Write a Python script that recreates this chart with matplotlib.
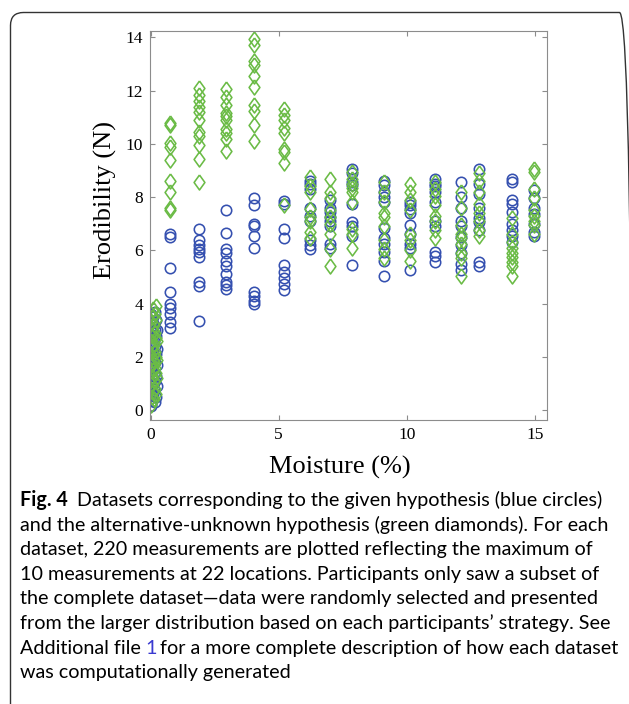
import matplotlib
matplotlib.use("Agg")
from matplotlib import pyplot as plt
from matplotlib.patches import FancyBboxPatch
from matplotlib.transforms import IdentityTransform
import numpy as np

# measurement locations (moisture %), 22 of them
locations = [0.02, 0.06, 0.10, 0.14, 0.18, 0.22, 0.26,
             0.75, 1.9, 2.95, 4.05, 5.2, 6.2, 7.0, 7.85,
             9.1, 10.1, 11.1, 12.1, 12.8, 14.1, 14.95]

# given hypothesis (blue circles)
blue_vals = [
    [0.15, 0.9, 1.6, 2.5, 3.1, 3.6],
    [0.35, 1.2, 1.9, 2.7, 3.3],
    [0.6, 1.0, 1.5, 2.2, 2.9, 3.5],
    [0.8, 1.4, 2.0, 2.6, 3.2],
    [0.3, 1.1, 1.8, 2.4, 3.0, 3.7],
    [0.5, 1.3, 2.1, 2.8, 3.4],
    [0.9, 1.7, 2.3, 3.0],
    [6.6, 6.5, 5.35, 4.45, 4.0, 3.85, 3.6, 3.3, 3.1],
    [6.8, 6.4, 6.2, 6.05, 5.95, 5.75, 4.8, 4.65, 3.35],
    [7.5, 6.65, 6.05, 5.9, 5.6, 5.4, 5.1, 4.8, 4.7, 4.55],
    [7.95, 7.7, 7.0, 6.9, 6.55, 6.1, 4.45, 4.3, 4.1, 4.0],
    [7.85, 7.75, 6.8, 6.45, 5.45, 5.2, 4.95, 4.75, 4.5],
    [8.6, 8.5, 8.3, 7.6, 7.3, 7.1, 6.4, 6.2, 6.05],
    [7.9, 7.6, 7.45, 7.25, 7.1, 6.9, 6.25, 6.1],
    [9.05, 8.9, 8.55, 8.45, 7.75, 7.05, 6.9, 6.55, 5.45],
    [8.6, 8.45, 8.2, 8.0, 7.8, 6.85, 6.45, 6.25, 5.95, 5.6, 5.05],
    [7.8, 7.7, 7.55, 7.4, 6.95, 6.6, 6.25, 6.1, 5.25],
    [8.7, 8.5, 8.4, 8.2, 7.8, 7.1, 6.9, 5.95, 5.8, 5.55],
    [8.55, 8.0, 7.6, 7.1, 6.9, 6.5, 6.2, 5.9, 5.5, 5.25],
    [9.05, 8.5, 8.1, 7.6, 7.2, 7.05, 6.75, 5.55, 5.4],
    [8.7, 8.55, 7.9, 7.75, 7.45, 7.0, 6.75, 6.55, 6.3],
    [8.25, 7.95, 7.6, 7.35, 7.0, 6.7, 6.55],
]

# alternative-unknown hypothesis (green diamonds)
green_vals = [
    [0.2, 1.0, 1.7, 2.6, 3.3],
    [0.5, 1.3, 2.0, 2.8, 3.5],
    [0.7, 1.5, 1.9, 2.4, 3.0, 3.8],
    [0.4, 1.1, 1.8, 2.5, 3.2],
    [0.8, 1.6, 2.2, 2.9, 3.6],
    [0.6, 1.4, 2.0, 2.7, 3.4, 3.9],
    [1.2, 1.9, 2.6],
    [10.8, 10.7, 10.05, 9.9, 9.4, 8.6, 8.2, 7.6, 7.5],
    [12.1, 11.85, 11.6, 11.4, 11.2, 10.9, 10.45, 10.3, 9.95, 9.45, 8.55],
    [12.05, 11.75, 11.45, 11.15, 11.05, 10.9, 10.55, 10.4, 10.2, 9.75],
    [13.95, 13.7, 13.1, 12.95, 12.55, 12.15, 11.45, 11.25, 10.7, 10.1],
    [11.3, 11.1, 10.9, 10.6, 10.4, 9.8, 9.7, 9.3, 7.7],
    [8.75, 8.4, 8.2, 7.55, 7.25, 7.1, 6.7, 6.45],
    [8.7, 8.2, 7.95, 7.5, 7.25, 7.0, 6.6, 6.05, 5.4],
    [8.95, 8.7, 8.5, 8.35, 8.2, 7.8, 6.8, 6.6, 6.1],
    [8.55, 8.2, 7.8, 7.4, 7.25, 6.9, 6.4, 6.05, 5.7],
    [8.5, 8.2, 7.9, 7.5, 6.6, 6.4, 6.0, 5.6],
    [8.55, 8.3, 8.05, 7.7, 7.3, 7.1, 6.75, 6.45],
    [8.2, 7.6, 6.95, 6.6, 6.45, 6.25, 5.9, 5.7, 5.05],
    [8.9, 8.6, 8.2, 7.75, 7.4, 7.1, 6.75, 6.55],
    [7.2, 6.6, 6.3, 6.1, 5.9, 5.75, 5.55, 5.4, 5.05],
    [9.05, 8.95, 8.3, 7.95, 7.5, 7.3, 7.1, 6.95, 6.6],
]

x_ticks = [0, 5, 10, 15]
y_ticks = [0, 2, 4, 6, 8, 10, 12, 14]
x_label = "Moisture (%)"
y_label = "Erodibility (N)"

caption_lines = [
    "Datasets corresponding to the given hypothesis (blue circles)",
    "and the alternative-unknown hypothesis (green diamonds). For each",
    "dataset, 220 measurements are plotted reflecting the maximum of",
    "10 measurements at 22 locations. Participants only saw a subset of",
    "the complete dataset\u2014data were randomly selected and presented",
    "from the larger distribution based on each participants\u2019 strategy. See",
    "for a more complete description of how each dataset",
    "was computationally generated",
]

W, H = 629, 704
BLUE = "#3550b0"
GREEN = "#6abb45"
AXIS = "#8c8c8c"

plt.rcParams["font.family"] = ["Liberation Serif", "DejaVu Serif"]
fig = plt.figure(figsize=(W / 100, H / 100), dpi=100)

# rounded frame round the figure + caption
frame = FancyBboxPatch((10.5, -40), 622, H - 12.5 + 40,
                       boxstyle="round,pad=0,rounding_size=13",
                       transform=IdentityTransform(), facecolor="none",
                       edgecolor="#333333", linewidth=1.0)
fig.patches.append(frame)

ax = fig.add_axes([150 / W, 1 - 420 / H, (546.7 - 150) / W, (420 - 31) / H])

bx = np.concatenate([[x] * len(v) for x, v in zip(locations, blue_vals)])
by = np.concatenate(blue_vals)
gx = np.concatenate([[x] * len(v) for x, v in zip(locations, green_vals)])
gy = np.concatenate(green_vals)

diamond = [(0, 1), (0.72, 0), (0, -1), (-0.72, 0), (0, 1)]
ax.plot(bx, by, linestyle="none", marker="o", ms=7.5, mfc="none",
        mec=BLUE, mew=1.15)
ax.plot(gx, gy, linestyle="none", marker=diamond, ms=10.8, mfc="none",
        mec=GREEN, mew=1.15)

ax.set_xlim(-0.02, 15.45)
ax.set_ylim(-0.37, 14.24)
ax.set_xticks(x_ticks)
ax.set_yticks(y_ticks)
ax.tick_params(direction="in", length=3.5, width=0.8, color=AXIS,
               labelsize=12.5, top=True, right=True, pad=5)
for s in ax.spines.values():
    s.set_color(AXIS)
    s.set_linewidth(0.8)
ax.set_xlabel(x_label, fontsize=19)
ax.set_ylabel(y_label, fontsize=19)
ax.xaxis.set_label_coords(0.479, -0.093)
ax.yaxis.set_label_coords(-0.083, 0.566)

# caption
fig.canvas.draw()
r = fig.canvas.get_renderer()
cap_font = dict(family=["Lato", "DejaVu Sans"], fontsize=14.2, va="baseline")
x0 = 20
line_gap = 24.6
base0 = 506


def put(x_px, y_px, s, **kw):
    t = fig.text(x_px / W, 1 - y_px / H, s, **cap_font, **kw)
    return x_px + t.get_window_extent(renderer=r).width


xp = put(x0, base0, "Fig. 4", weight="bold")
put(xp + 9, base0, caption_lines[0])
for i, line in enumerate(caption_lines[1:], start=1):
    y = base0 + i * line_gap
    if i == 6:
        xp = put(x0, y, "Additional file")
        xp = put(xp + 4, y, "1", color="#3a3ad0")
        put(xp + 4, y, line)
    else:
        put(x0, y, line)

fig.savefig("out.png", dpi=100)
